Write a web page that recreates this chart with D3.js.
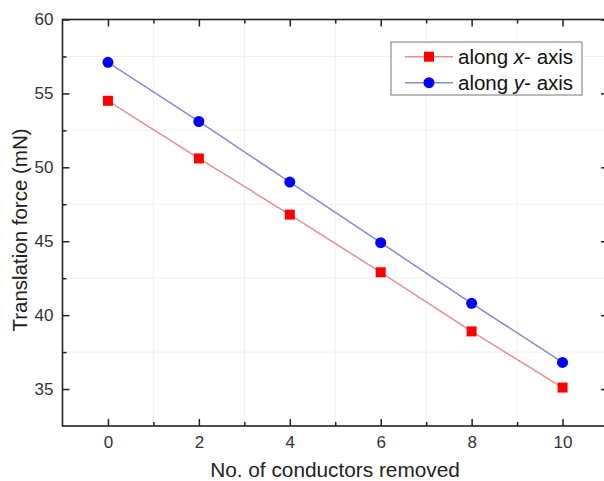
<!DOCTYPE html>
<html>
<head>
<meta charset="utf-8">
<script src="https://cdn.jsdelivr.net/npm/d3@7"></script>
<style>
  html, body { margin: 0; padding: 0; background: #fff; }
  svg { display: block; font-family: "Liberation Sans", Arial, sans-serif; }
</style>
</head>
<body>
<svg id="chart" width="604" height="481"></svg>
<script>
// ---- data ----
const conductorsRemoved = [0, 2, 4, 6, 8, 10];
const forceAlongX = [54.5, 50.6, 46.8, 42.9, 38.9, 35.1];
const forceAlongY = [57.1, 53.1, 49.0, 44.9, 40.8, 36.8];
const xTickValues = [0, 2, 4, 6, 8, 10];
const xMinorTicks = [1, 3, 5, 7, 9];
const yTickValues = [35, 40, 45, 50, 55, 60];
const yMinorTicks = [37.5, 42.5, 47.5, 52.5, 57.5];
const seriesNames = ["along x- axis", "along y- axis"];

(function () {
const svg = d3.select("#chart");
const W = 604, H = 481;
svg.append("rect").attr("width", W).attr("height", H).attr("fill", "#fff");

const x = d3.scaleLinear().domain([-1, 11]).range([62.5, 608]);
const y = d3.scaleLinear().domain([32.5, 60]).range([426, 19.5]);

const pLeft = x.range()[0], pRight = x.range()[1], pTop = y.range()[1], pBottom = y.range()[0];

// grid (at minor positions, very faint)
const grid = svg.append("g");
grid.selectAll(".gx").data(xMinorTicks).join("line")
  .attr("x1", d => x(d)).attr("x2", d => x(d)).attr("y1", pTop).attr("y2", pBottom)
  .attr("stroke", "#f0f0f0").attr("stroke-width", 1);
grid.selectAll(".gy").data(yMinorTicks).join("line")
  .attr("x1", pLeft).attr("x2", pRight).attr("y1", d => y(d)).attr("y2", d => y(d))
  .attr("stroke", "#f0f0f0").attr("stroke-width", 1);

const axisColor = "#222";
function styleAxis(g) {
  g.select(".domain").remove();
  g.selectAll(".tick line").attr("stroke", axisColor).attr("stroke-width", 1.5);
  g.selectAll(".tick text").attr("fill", "#333").attr("font-size", 17)
    .attr("font-family", "Liberation Sans, Arial, sans-serif");
}

// bottom axis (inward ticks)
svg.append("g").attr("transform", `translate(0,${pBottom})`)
  .call(d3.axisBottom(x).tickValues(xTickValues).tickSizeInner(-7).tickSizeOuter(0).tickPadding(10))
  .call(styleAxis);
svg.append("g").attr("transform", `translate(0,${pBottom})`)
  .call(d3.axisBottom(x).tickValues(xMinorTicks).tickSizeInner(-4).tickSizeOuter(0).tickFormat(""))
  .call(styleAxis);
// top axis (inward ticks, no labels)
svg.append("g").attr("transform", `translate(0,${pTop})`)
  .call(d3.axisTop(x).tickValues(xTickValues).tickSizeInner(-7).tickSizeOuter(0).tickFormat(""))
  .call(styleAxis);
svg.append("g").attr("transform", `translate(0,${pTop})`)
  .call(d3.axisTop(x).tickValues(xMinorTicks).tickSizeInner(-4).tickSizeOuter(0).tickFormat(""))
  .call(styleAxis);
// left axis
svg.append("g").attr("transform", `translate(${pLeft},0)`)
  .call(d3.axisLeft(y).tickValues(yTickValues).tickSizeInner(-7).tickSizeOuter(0).tickPadding(9))
  .call(styleAxis);
svg.append("g").attr("transform", `translate(${pLeft},0)`)
  .call(d3.axisLeft(y).tickValues(yMinorTicks).tickSizeInner(-4).tickSizeOuter(0).tickFormat(""))
  .call(styleAxis);
// right axis
svg.append("g").attr("transform", `translate(${pRight},0)`)
  .call(d3.axisRight(y).tickValues(yTickValues).tickSizeInner(-7).tickSizeOuter(0).tickFormat(""))
  .call(styleAxis);
svg.append("g").attr("transform", `translate(${pRight},0)`)
  .call(d3.axisRight(y).tickValues(yMinorTicks).tickSizeInner(-4).tickSizeOuter(0).tickFormat(""))
  .call(styleAxis);

// frame
svg.append("rect").attr("x", pLeft).attr("y", pTop)
  .attr("width", pRight - pLeft).attr("height", pBottom - pTop)
  .attr("fill", "none").attr("stroke", axisColor).attr("stroke-width", 1.6);

// series
const series = [
  { name: seriesNames[0], values: forceAlongX, line: "#e39090", marker: "#ff0000", shape: "square" },
  { name: seriesNames[1], values: forceAlongY, line: "#8a8ad0", marker: "#0000ff", shape: "circle" }
];
const lineGen = d3.line().x(d => x(d[0])).y(d => y(d[1]));

function drawMarker(g, shape, color, cx, cy) {
  if (shape === "square") {
    g.append("rect").attr("x", cx - 5).attr("y", cy - 5).attr("width", 10).attr("height", 10)
      .attr("fill", color);
  } else {
    g.append("circle").attr("cx", cx).attr("cy", cy).attr("r", 5.5).attr("fill", color);
  }
}

series.forEach(s => {
  const pts = conductorsRemoved.map((c, i) => [c, s.values[i]]);
  svg.append("path").datum(pts).attr("d", lineGen)
    .attr("fill", "none").attr("stroke", s.line).attr("stroke-width", 1.5);
  const mg = svg.append("g");
  pts.forEach(p => drawMarker(mg, s.shape, s.marker, x(p[0]), y(p[1])));
});

// legend
const lg = svg.append("g");
lg.append("rect").attr("x", 391).attr("y", 42).attr("width", 191).attr("height", 53)
  .attr("fill", "#fff").attr("stroke", "#777").attr("stroke-width", 1);
series.forEach((s, i) => {
  const cy = 56.7 + i * 26;
  lg.append("line").attr("x1", 405).attr("x2", 453).attr("y1", cy).attr("y2", cy)
    .attr("stroke", s.line).attr("stroke-width", 1.5);
  drawMarker(lg, s.shape, s.marker, 429, cy);
  const parts = s.name.split(" ");
  const t = lg.append("text").attr("x", 458).attr("y", cy + 7.5).attr("font-size", 20.5).attr("fill", "#111");
  t.append("tspan").text(parts[0] + " ");
  t.append("tspan").attr("font-style", "italic").text(parts[1].replace("-", ""));
  t.append("tspan").text("- " + parts[2]);
});

// axis titles
svg.append("text").attr("x", 335).attr("y", 476.5).attr("text-anchor", "middle")
  .attr("font-size", 20.8).attr("fill", "#222").text("No. of conductors removed");
svg.append("text").attr("transform", "translate(26.5,230) rotate(-90)").attr("text-anchor", "middle")
  .attr("font-size", 20.5).attr("fill", "#222").text("Translation force (mN)");
})();
</script>
</body>
</html>
